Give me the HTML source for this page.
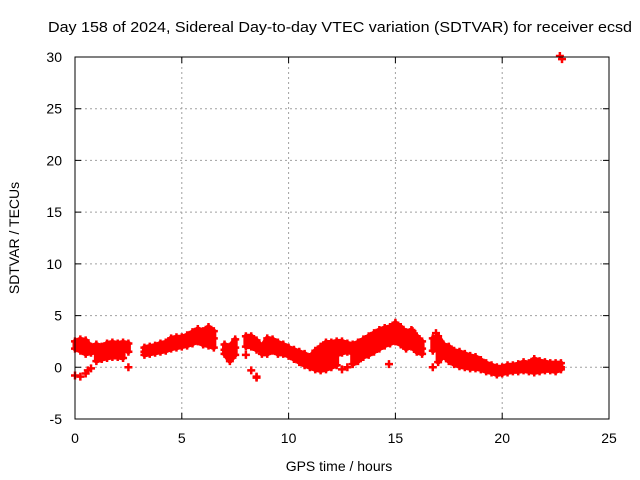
<!DOCTYPE html>
<html><head><meta charset="utf-8"><style>
body{margin:0;background:#fff;}
svg{display:block;font-family:"Liberation Sans",sans-serif;}
</style></head><body>
<svg id="chart" width="640" height="480">
<text x="340" y="32" font-size="15" text-anchor="middle" textLength="584" lengthAdjust="spacingAndGlyphs">Day 158 of 2024, Sidereal Day-to-day VTEC variation (SDTVAR) for receiver ecsd</text>
<text x="339" y="471" font-size="14" text-anchor="middle">GPS time / hours</text>
<text transform="translate(19,238) rotate(-90)" font-size="14" text-anchor="middle">SDTVAR / TECUs</text>
<g id="grid"></g>
<g id="marks"></g>
<rect x="75" y="57" width="534" height="362" fill="none" stroke="#000" stroke-width="1"/>
</svg>
<script>
const hours=[0,0.25,0.5,0.75,1,1.25,1.5,1.75,2,2.25,2.5,2.75,3,3.25,3.5,3.75,4,4.25,4.5,4.75,5,5.25,5.5,5.75,6,6.25,6.5,6.75,7,7.25,7.5,7.75,8,8.25,8.5,8.75,9,9.25,9.5,9.75,10,10.25,10.5,10.75,11,11.25,11.5,11.75,12,12.25,12.5,12.75,13,13.25,13.5,13.75,14,14.25,14.5,14.75,15,15.25,15.5,15.75,16,16.25,16.5,16.75,17,17.25,17.5,17.75,18,18.25,18.5,18.75,19,19.25,19.5,19.75,20,20.25,20.5,20.75,21,21.25,21.5,21.75,22,22.25,22.5,22.75];
const upper=[2.5,2.7,2.6,2.0,2.2,2.0,2.3,2.4,2.3,2.4,2.3,null,null,1.9,2.0,2.1,2.3,2.4,2.8,2.9,2.9,3.1,3.4,3.7,3.5,3.9,3.5,null,2.2,2.0,2.7,null,3.0,3.0,2.6,2.0,2.8,2.7,2.4,2.2,1.9,1.7,1.5,1.3,1.0,1.6,2.0,2.4,2.4,2.5,2.5,2.3,2.2,2.4,2.7,3.0,3.3,3.6,3.8,3.9,4.3,3.9,3.4,3.6,3.0,2.5,null,2.8,3.0,2.2,2.0,1.6,1.5,1.3,1.1,1.0,0.7,0.4,0.2,0.0,0.0,0.2,0.2,0.3,0.5,0.4,0.8,0.6,0.5,0.4,0.4,0.4];
const middle=[1.8,1.6,1.3,1.4,1.5,1.2,1.6,1.7,1.6,1.8,1.5,null,null,1.5,1.6,1.8,1.9,2.0,2.3,2.4,2.5,2.6,2.9,3.2,3.0,3.0,2.8,null,1.7,1.3,1.9,null,2.0,2.0,1.7,1.6,2.0,2.2,1.8,1.7,1.5,1.2,1.0,0.7,0.4,0.6,0.8,1.0,1.0,1.2,1.4,1.5,1.4,1.6,1.8,2.0,2.4,2.8,3.0,3.1,3.4,3.1,2.8,2.8,2.2,1.8,null,1.6,1.8,1.5,1.2,1.0,0.9,0.7,0.5,0.4,0.2,0.0,-0.2,-0.3,-0.3,-0.2,-0.1,0.0,0.0,0.0,0.2,0.1,0.1,0.1,0.0,0.0];
const lower=[-0.8,-0.9,-0.6,-0.1,0.6,0.8,0.9,1.0,1.0,0.9,0.0,null,null,1.2,1.3,1.4,1.5,1.6,1.8,1.9,2.0,2.1,2.3,2.5,2.2,2.1,1.9,null,1.3,0.6,1.2,null,1.2,-0.3,-0.9,1.3,1.3,1.6,1.3,1.3,1.1,0.8,0.5,0.2,0.0,-0.2,-0.3,-0.2,0.0,0.2,-0.2,0.0,0.3,0.6,1.0,1.2,1.5,1.8,2.1,2.3,2.5,2.2,1.8,2.0,1.5,1.3,null,0.0,0.5,1.1,0.6,0.3,0.1,0.0,-0.1,-0.1,-0.2,-0.4,-0.5,-0.7,-0.6,-0.5,-0.4,-0.4,-0.3,-0.4,-0.5,-0.4,-0.3,-0.3,-0.4,-0.2];
const extraHours=[14.7,15.8,16.9,22.8,22.7,0.6,8.5];
const extraValues=[0.3,3.5,3.3,29.8,30.1,-0.3,-1.0];
const xTicks=[0,5,10,15,20,25];
const yTicks=[-5,0,5,10,15,20,25,30];

const L=75,R=609,T=57,B=419,xMin=0,xMax=25,yMin=-5,yMax=30;
const NS='http://www.w3.org/2000/svg';
function xs(v){return L+(v-xMin)/(xMax-xMin)*(R-L);}
function ys(v){return B-(v-yMin)/(yMax-yMin)*(B-T);}
function mk(tag,attrs,parent){const e=document.createElementNS(NS,tag);for(const k in attrs)e.setAttribute(k,attrs[k]);parent.appendChild(e);return e;}
const svg=document.getElementById('chart');
const grid=document.getElementById('grid');
xTicks.forEach(t=>{
  const x=xs(t);
  if(t>xMin&&t<xMax){const g=mk('line',{x1:x,y1:T,x2:x,y2:B,stroke:'#a0a0a0','stroke-dasharray':'2,3'},grid);
  
  }
  const tk=mk('path',{d:`M${x},${B}v-6M${x},${T}v6`,stroke:'#000'},grid);
  
  
  const lb=mk('text',{x:x,y:B+24,'font-size':14,'text-anchor':'middle'},svg);
  lb.textContent=t;
  
  
});
yTicks.forEach(t=>{
  const y=ys(t);
  if(t>yMin&&t<yMax){const g=mk('line',{x1:L,y1:y,x2:R,y2:y,stroke:'#a0a0a0','stroke-dasharray':'2,3'},grid);
  
  }
  const tk=mk('path',{d:`M${L},${y}h6M${R},${y}h-6`,stroke:'#000'},grid);
  
  
  const lb=mk('text',{x:L-13,y:y+5,'font-size':14,'text-anchor':'end'},svg);
  lb.textContent=t;
  
  
});
const marks=document.getElementById('marks');
function ok(v){return v!==null&&v!==undefined;}
function band(a,b,maxGap){
  for(let i=0;i<hours.length-1;i++){
    if(!ok(a[i])||!ok(b[i])||!ok(a[i+1])||!ok(b[i+1]))continue;
    if(Math.abs(a[i]-b[i])>maxGap||Math.abs(a[i+1]-b[i+1])>maxGap)continue;
    const q=mk('polygon',{points:`${xs(hours[i])},${ys(a[i])} ${xs(hours[i+1])},${ys(a[i+1])} ${xs(hours[i+1])},${ys(b[i+1])} ${xs(hours[i])},${ys(b[i])}`,fill:'#ff0000',stroke:'#ff0000','stroke-width':5,'stroke-linejoin':'round'},marks);
    
    
  }
}
band(upper,middle,2.5);
band(middle,lower,1.3);
function plus(h,v){
  if(!ok(v))return;
  const x=xs(h),y=ys(v);
  const p=mk('path',{d:`M${x-4},${y}h8M${x},${y-4}v8`,stroke:'#ff0000','stroke-width':2.5},marks);
  
  
}
hours.forEach((h,i)=>{plus(h,upper[i]);plus(h,middle[i]);plus(h,lower[i]);});
extraHours.forEach((h,i)=>plus(h,extraValues[i]));
</script>
</body></html>
